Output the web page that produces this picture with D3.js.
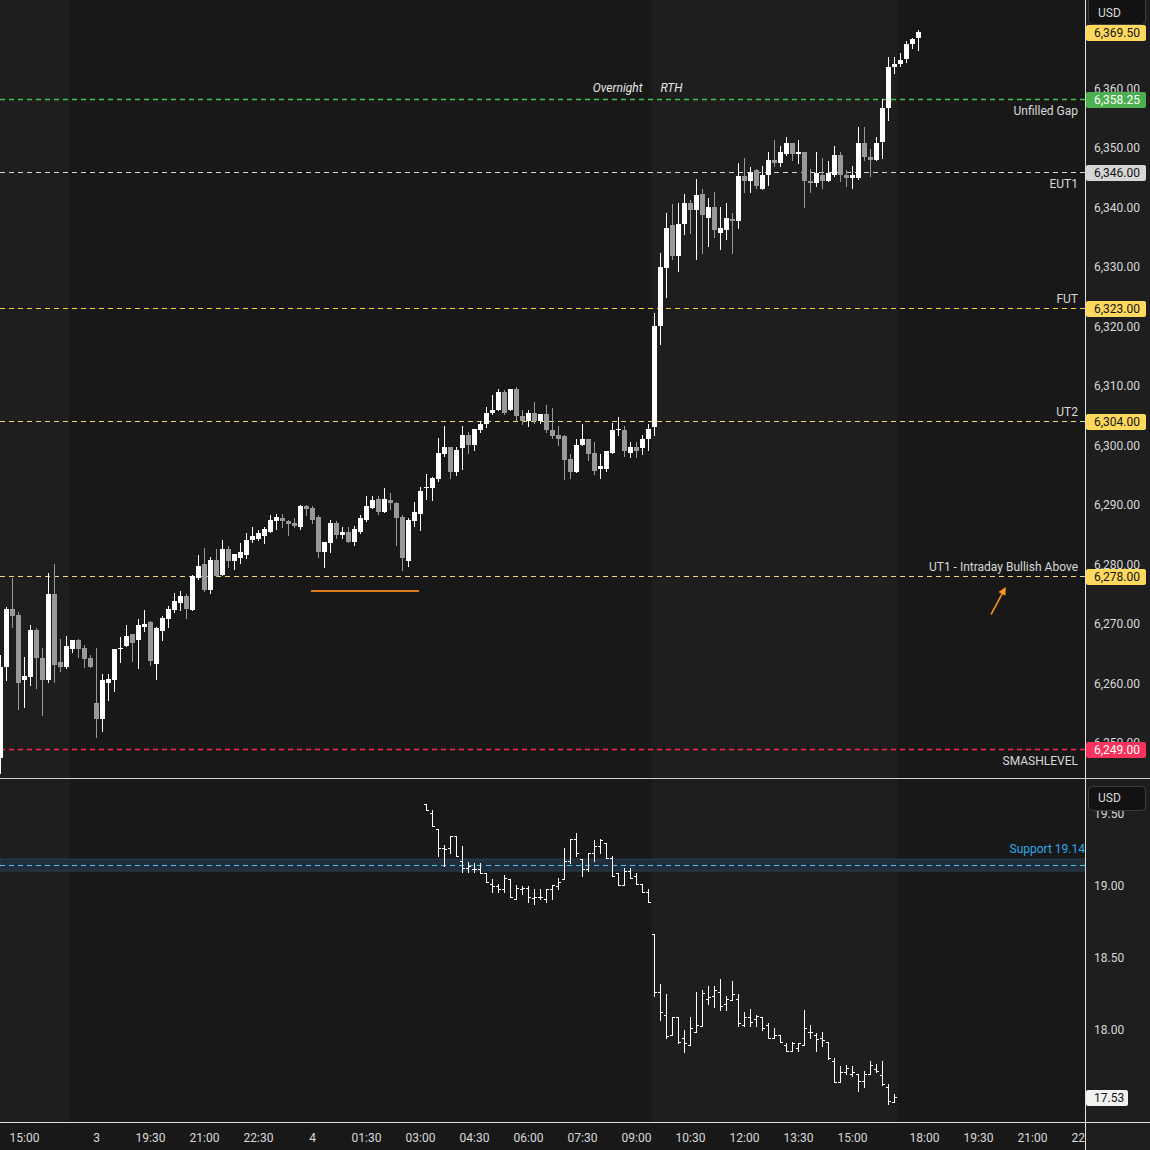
<!DOCTYPE html>
<html lang="en">
<head>
<meta charset="UTF-8">
<title>ES 10m with VIX</title>
<script src="https://d3js.org/d3.v7.min.js"></script>
<style>
  body { margin: 0; background: #181818; }
  text { font-family: Roboto, "DejaVu Sans", sans-serif; }
</style>
</head>
<body>
<script>
// ES 10 minute candles, bar index 0 = 14:20 (day 2), 154 bars
const esOpen = [6247.5,6262.75,6272.5,6271.5,6260.5,6261,6269,6264.25,6260.5,6275,6263.5,6262.75,6265.75,6267.25,6266,6264.25,
  6256.75,6254,6260,6260.5,6265.75,6266.25,6268.25,6267.25,6269.5,6270.25,6263.25,6268.75,6270.75,6272.25,6273.5,6274.75,6272.25,6277.75,6280,6275.75,6280.75,6278.25,6282.5,6280.5,
  6281,6281.5,6284,6284.25,6284.75,6285.5,6287.25,6287.75,6287.25,6287,6286.25,6289.75,6289.5,6288,6282,6283.5,6287,6285,6285.5,6283.75,
  6285.5,6287.5,6289.5,6291,6288.75,6290.75,6290.25,6288,6280.5,6287.25,6288.5,6292.75,6292.75,6294.25,6298.5,6299.75,6295.5,6299.5,6301.75,6300,
  6302.5,6303.5,6305.5,6306,6309,6306,6309.5,6305,6304,6305.5,6304,6305.25,6302.5,6301.75,6301.5,6297.75,6295.5,6300,6301,6298.75,
  6296,6296,6298.75,6302.5,6302.5,6298.75,6299.75,6299.5,6301,6303,6320,6329.75,6337,6331.75,6337.25,6340.75,6339.5,6342.25,6338.25,6340,
  6335.75,6336.25,6338,6337.75,6345.25,6344.5,6346.25,6343,6345.5,6348,6347.5,6349,6350.75,6349,6349.25,6344.5,6344,6345.5,6344.5,6345.5,
  6348.75,6345.5,6345,6345,6350.75,6348.5,6348,6351,6356.75,6363.5,6364,6365,6367.5,6368.5]
const esHigh = [6264.75,6272.75,6277.75,6272,6264.5,6269.75,6269.25,6266,6278.5,6280,6267.5,6268,6267.25,6267.5,6266.5,6264.75,
  6266,6261.5,6261.5,6265.75,6267.75,6269.75,6268.25,6270.75,6272.25,6270.5,6269.5,6271.25,6273,6275.25,6275.5,6275,6278.25,6281.5,6282.75,6281.25,6282.5,6284,6283,6281.75,
  6283.5,6285.25,6286.25,6285.75,6286.25,6288.25,6288.5,6288.5,6287.5,6287.75,6290,6290,6289.75,6288.25,6283.75,6287.5,6287.25,6286.25,6286.25,6286.5,
  6288.25,6291.5,6291.5,6291.5,6292.75,6292,6290.5,6288.25,6287.75,6290.5,6293,6295.25,6294.75,6301.25,6303.25,6299.75,6299.75,6303.25,6302.25,6302.75,
  6304,6306.5,6308.5,6309.5,6309.25,6309.5,6309.75,6306,6306,6307.25,6305.25,6306.75,6306.25,6303.25,6301.75,6298.5,6301,6303.5,6301,6300.5,
  6298.5,6299,6303.75,6304.75,6303.25,6300.5,6300.5,6301.75,6303.5,6322.25,6332.25,6339,6340.5,6340.75,6342.25,6341.25,6344.75,6343,6341.5,6342.5,
  6340,6340.75,6339,6347.5,6348.25,6346.75,6346.5,6347,6349.25,6351.25,6350.25,6351.75,6350.75,6351.25,6349.25,6346.5,6349.25,6348.25,6347.75,6350.25,
  6349.25,6346.25,6347,6353.5,6353.5,6349.75,6351.75,6358.25,6365.25,6365.25,6366,6368,6368.5,6369.75]
const esLow = [6245,6260.5,6269.5,6255.75,6256,6259.75,6259.25,6254.75,6260.25,6260.25,6262,6262.5,6265.25,6264.5,6262.75,6262.75,
  6251,6252,6257.25,6258.75,6263.5,6266.25,6263.75,6262.5,6268.75,6263,6260.75,6267.25,6269.5,6272,6272.25,6271,6272.25,6277.5,6275.5,6275.25,6278,6278.25,6279.5,6279.25,
  6280.25,6281,6283.75,6284,6283.5,6285.5,6286,6286.25,6285,6286.25,6286,6288.25,6287,6281.25,6279.5,6282,6284.5,6284.5,6283.75,6283.25,
  6285.25,6287.25,6289.5,6288.5,6288.75,6289.25,6283.25,6279,6279.75,6286.5,6285.75,6291,6290.75,6294,6298.25,6294.5,6295,6296,6298.75,6299.25,
  6302.25,6303,6305.25,6306,6305.25,6306,6304.25,6303.5,6303.25,6303.75,6303.75,6302.25,6301.25,6300,6294.25,6294.5,6295.5,6300,6297.5,6295.25,
  6294.5,6295.75,6298.75,6301.75,6298.25,6298,6298,6298.5,6299.25,6301.75,6317,6325,6331.25,6329.25,6335.5,6335.75,6331.25,6332.25,6333.5,6335,
  6333,6334.75,6332.25,6336.5,6342.5,6342.5,6343.25,6343,6343.75,6347,6347,6348.75,6348,6347.5,6340,6342.5,6343.5,6343.25,6344.5,6345.25,
  6344.5,6343.5,6343.25,6344.75,6348,6345.25,6348,6348.25,6354.75,6362.5,6363.75,6364.5,6366.75,6366.5]
const esClose = [6262.75,6272.5,6271.25,6260,6261.25,6269,6264.25,6260.5,6275,6263,6262.75,6266.25,6267.25,6265.75,6264,6262.75,
  6254,6260.5,6260.75,6265.75,6266,6268,6266.75,6269.75,6270,6263.75,6269.25,6271,6272.5,6273.75,6274.75,6272.5,6278,6279.75,6275.75,6280.75,6278,6282.5,6280.5,6281.75,
  6282,6284,6284.75,6285.25,6286,6287.5,6288,6287.25,6286.75,6286.5,6289.75,6289.25,6287.5,6282,6283.75,6287,6285,6285.5,6283.75,6286,
  6287.75,6289.75,6290.75,6288.75,6291,6290.25,6287.75,6281,6287.5,6288.75,6292.25,6293,6294.5,6298.75,6299.75,6295.5,6299.25,6301.75,6300,6302.75,
  6303.5,6305.5,6306,6309,6305.5,6309.5,6305,6304,6305.5,6304,6305.25,6302.5,6301.5,6301,6297.5,6295.5,6300,6301,6298.5,6295.75,
  6296.5,6299,6302.5,6302.75,6299,6299.75,6299,6301,6302.75,6320,6330,6336.5,6331.75,6337.25,6340.75,6339.5,6342,6338.75,6340,6336.25,
  6336.5,6338.25,6337.75,6345.25,6344.5,6346,6343.5,6345.5,6348,6347.5,6349.25,6350.75,6349,6349.25,6344.5,6344,6345.75,6344.5,6345.75,6348.75,
  6345.5,6345,6345.5,6350.75,6348.5,6348,6350.75,6356.75,6363.5,6364,6364.75,6367.5,6368.25,6369.5]

// VIX 10 minute bars, first bar at index 71 (03:10)
const vixStart = 71
const vixOpen = [19.56,19.50,19.39,19.26,19.26,19.34,19.17,19.12,19.11,19.11,19.08,19.01,18.99,18.97,19.04,18.90,18.97,18.98,18.91,18.92,
  18.90,18.97,18.99,19.04,19.17,19.32,19.18,19.11,19.22,19.27,19.29,19.19,19.08,19.00,19.10,19.06,19.01,18.95,
  18.66,18.26,18.10,17.96,18.08,17.94,17.89,17.98,18.02,18.21,18.23,18.26,18.17,18.20,18.21,18.03,18.08,18.07,18.08,18.03,
  17.94,17.96,17.89,17.85,17.87,17.89,17.98,17.96,17.94,17.91,17.78,17.63,17.70,17.69,17.69,17.64,17.69,17.72,17.68,17.60,17.49]
const vixHigh = [19.56,19.52,19.39,19.28,19.34,19.34,19.27,19.16,19.15,19.15,19.08,19.04,19.01,19.07,19.04,19.00,18.99,18.99,18.97,18.97,
  18.97,19.00,19.05,19.26,19.32,19.36,19.18,19.22,19.31,19.32,19.29,19.20,19.08,19.12,19.12,19.08,19.01,18.97,
  18.66,18.31,18.24,18.08,18.08,17.99,18.08,18.26,18.27,18.30,18.30,18.35,18.23,18.33,18.24,18.12,18.14,18.10,18.08,18.04,
  18.01,17.96,17.90,17.91,17.90,18.13,18.03,17.97,17.98,17.91,17.80,17.74,17.75,17.74,17.69,17.71,17.78,17.76,17.78,17.62,17.55]
const vixLow = [19.52,19.41,19.20,19.13,19.22,19.20,19.09,19.09,19.09,19.08,19.02,18.95,18.95,18.95,18.92,18.90,18.94,18.88,18.87,18.90,
  18.88,18.90,18.97,19.04,19.15,19.20,19.06,19.10,19.17,19.22,19.19,19.06,19.00,19.00,19.05,19.01,18.95,18.88,
  18.23,18.06,17.94,17.96,17.90,17.84,17.89,17.98,18.02,18.17,18.15,18.13,18.13,18.20,18.02,18.02,18.02,18.02,17.99,17.94,
  17.94,17.91,17.85,17.85,17.85,17.89,17.94,17.85,17.88,17.79,17.63,17.63,17.69,17.67,17.57,17.60,17.69,17.70,17.61,17.48,17.49]
const vixClose = [19.52,19.41,19.26,19.25,19.34,19.20,19.12,19.13,19.11,19.08,19.02,18.99,18.97,19.05,18.92,18.98,18.98,18.92,18.92,18.92,
  18.97,19.00,19.02,19.17,19.32,19.22,19.11,19.22,19.27,19.31,19.19,19.06,19.00,19.10,19.05,19.01,18.95,18.88,
  18.26,18.12,17.95,18.08,17.91,17.90,18.01,18.03,18.25,18.22,18.27,18.16,18.21,18.24,18.04,18.08,18.05,18.09,18.01,17.94,
  17.96,17.91,17.85,17.90,17.90,18.01,17.98,17.93,17.92,17.80,17.63,17.70,17.73,17.70,17.64,17.69,17.75,17.71,17.62,17.50,17.53]

// horizontal levels
const levelPrices = [6358.25, 6346, 6323, 6304, 6278, 6249]
const levelNames = ["Unfilled Gap", "EUT1", "FUT", "UT2", "UT1 - Intraday Bullish Above", "SMASHLEVEL"]
const supportLevel = 19.14
const supportBand = [19.097, 19.18]

// axes
const priceTicks = [6250, 6260, 6270, 6280, 6290, 6300, 6310, 6320, 6330, 6340, 6350, 6360, 6370]
const vixTicks = [18.0, 18.5, 19.0, 19.5]
const timeTickIdx = [4, 16, 25, 34, 43, 52, 61, 70, 79, 88, 97, 106, 115, 124, 133, 142, 154, 163, 172, 181]
const timeTickLabels = ["15:00", "3", "19:30", "21:00", "22:30", "4", "01:30", "03:00", "04:30", "06:00", "07:30", "09:00",
  "10:30", "12:00", "13:30", "15:00", "18:00", "19:30", "21:00", "22:30"]

// RTH sessions (bar index ranges) and drawings
const rthSessions = [[-2, 11], [109, 149]]
const rthStart = 109
const orangeSeg = [51.75, 69.75, 6275.5]
const arrowFrom = [165.1, 6271.6]
const arrowTo = [167.55, 6276.2]

// ---- styles
const levelStyle = {
  "Unfilled Gap": { line: "#3fc44a", box: "#4caf50", text: "#ffffff", below: true, w: 1.6 },
  "EUT1": { line: "#d8d8d8", box: "#d6d6d6", text: "#131313", below: true, w: 1 },
  "FUT": { line: "#ffcc33", box: "#ffd95e", text: "#131313", below: false, w: 1 },
  "UT2": { line: "#f0d77e", box: "#ffd95e", text: "#131313", below: false, w: 1 },
  "UT1 - Intraday Bullish Above": { line: "#f0d77e", box: "#ffd95e", text: "#131313", below: false, w: 1 },
  "SMASHLEVEL": { line: "#ff2450", box: "#f7325d", text: "#ffffff", below: true, w: 1.6 }
}
const upColor = "#ffffff", downColor = "#999999"
const bgDark = "#181818", bgLight = "#1e1e1e"
const axisText = "#d8d8d8"
const dyText = 1.5

const W = 1150, H = 1150, plotR = 1085
const mainBot = 778, subTop = 779, subBot = 1122

const svg = d3.select("body").append("svg")
  .attr("width", W).attr("height", H)

const x = d3.scaleLinear().domain([-1 / 12, 180.75]).range([0, plotR])
const y = d3.scaleLinear().domain([6244.08, 6374.84]).range([mainBot, 0])
const yv = d3.scaleLinear().domain([17.354, 19.736]).range([subBot, subTop])
const fmtP = d3.format(",.2f")
const r = v => Math.round(v)

// backgrounds
svg.append("rect").attr("width", W).attr("height", H).attr("fill", bgDark)
svg.append("rect").attr("x", plotR).attr("width", W - plotR).attr("height", H).attr("fill", "#1e1e1e")
rthSessions.forEach(s => {
  const x0 = Math.max(0, x(s[0]) - 3), x1 = x(s[1]) + 3
  svg.append("rect").attr("x", x0).attr("y", 0).attr("width", x1 - x0).attr("height", subBot)
    .attr("fill", bgLight)
})

svg.append("clipPath").attr("id", "clipMain").append("rect")
  .attr("width", plotR).attr("height", mainBot)
svg.append("clipPath").attr("id", "clipSub").append("rect")
  .attr("y", subTop).attr("width", plotR).attr("height", subBot - subTop)

const gMain = svg.append("g").attr("clip-path", "url(#clipMain)")
const gSub = svg.append("g").attr("clip-path", "url(#clipSub)")

// level lines
levelPrices.forEach((p, i) => {
  const st = levelStyle[levelNames[i]]
  const yy = r(y(p)) + 0.5
  gMain.append("line").attr("x1", 0).attr("x2", plotR).attr("y1", yy).attr("y2", yy)
    .attr("stroke", st.line).attr("stroke-width", st.w).attr("stroke-dasharray", "5,4")
  gMain.append("text").attr("x", 1078).attr("y", (st.below ? yy + 11 : yy - 10) + dyText)
    .attr("text-anchor", "end").attr("dominant-baseline", "middle")
    .attr("font-size", 12).attr("fill", axisText).text(levelNames[i])
})

// session labels
gMain.append("text").attr("x", x(rthStart) - 12).attr("y", 87 + dyText).attr("text-anchor", "end")
  .attr("dominant-baseline", "middle").attr("font-size", 12).attr("font-style", "italic")
  .attr("fill", "#e6e6e6").text("Overnight")
gMain.append("text").attr("x", x(rthStart) + 6).attr("y", 87 + dyText)
  .attr("dominant-baseline", "middle").attr("font-size", 12).attr("font-style", "italic")
  .attr("fill", "#e6e6e6").text("RTH")

// candles
const idx = d3.range(esOpen.length)
const cg = gMain.append("g")
cg.selectAll("line.wick").data(idx).join("line").attr("class", "wick")
  .attr("x1", d => x(d)).attr("x2", d => x(d))
  .attr("y1", d => r(y(esHigh[d]))).attr("y2", d => r(y(esLow[d])) + 1)
  .attr("stroke", d => esClose[d] >= esOpen[d] ? upColor : downColor).attr("stroke-width", 1)
cg.selectAll("rect.body").data(idx).join("rect").attr("class", "body")
  .attr("x", d => x(d) - 2.5).attr("width", 5)
  .attr("y", d => r(y(Math.max(esOpen[d], esClose[d]))))
  .attr("height", d => Math.max(1, r(y(Math.min(esOpen[d], esClose[d]))) - r(y(Math.max(esOpen[d], esClose[d])))))
  .attr("fill", d => esClose[d] >= esOpen[d] ? upColor : downColor)

// orange drawing + arrow
gMain.append("line").attr("x1", x(orangeSeg[0])).attr("x2", x(orangeSeg[1]))
  .attr("y1", y(orangeSeg[2])).attr("y2", y(orangeSeg[2]))
  .attr("stroke", "#e07a1f").attr("stroke-width", 2)
const ax0 = x(arrowFrom[0]), ay0 = y(arrowFrom[1]), ax1 = x(arrowTo[0]), ay1 = y(arrowTo[1])
const ang = Math.atan2(ay1 - ay0, ax1 - ax0)
gMain.append("line").attr("x1", ax0).attr("y1", ay0)
  .attr("x2", ax1 - 5 * Math.cos(ang)).attr("y2", ay1 - 5 * Math.sin(ang))
  .attr("stroke", "#f7931e").attr("stroke-width", 1.6)
const hl = 8, hw = 4
gMain.append("path").attr("fill", "#f7931e").attr("d", d3.line()([
  [ax1, ay1],
  [ax1 - hl * Math.cos(ang) + hw * Math.sin(ang), ay1 - hl * Math.sin(ang) - hw * Math.cos(ang)],
  [ax1 - hl * Math.cos(ang) - hw * Math.sin(ang), ay1 - hl * Math.sin(ang) + hw * Math.cos(ang)]
]) + "Z")

// support band (lower pane)
gSub.append("rect").attr("x", 0).attr("width", plotR)
  .attr("y", yv(supportBand[1])).attr("height", yv(supportBand[0]) - yv(supportBand[1]))
  .attr("fill", "#1f2e3a").attr("stroke", "#2c4150").attr("stroke-width", 1)
gSub.append("line").attr("x1", 0).attr("x2", plotR)
  .attr("y1", r(yv(supportLevel)) + 0.5).attr("y2", r(yv(supportLevel)) + 0.5)
  .attr("stroke", "#4fc3f7").attr("stroke-dasharray", "5,4")
gSub.append("text").attr("x", plotR).attr("y", yv(supportLevel) - 16 + dyText)
  .attr("text-anchor", "end").attr("dominant-baseline", "middle")
  .attr("font-size", 12).attr("fill", "#2ea8e8").text("Support " + supportLevel)

// VIX OHLC bars
const vidx = d3.range(vixOpen.length)
const vg = gSub.append("g").attr("stroke", "#ffffff").attr("stroke-width", 1)
vg.selectAll("line.v").data(vidx).join("line")
  .attr("x1", d => x(d + vixStart)).attr("x2", d => x(d + vixStart))
  .attr("y1", d => r(yv(vixHigh[d]))).attr("y2", d => r(yv(vixLow[d])) + 1)
vg.selectAll("line.o").data(vidx).join("line")
  .attr("x1", d => x(d + vixStart) - 2.5).attr("x2", d => x(d + vixStart) - 0.5)
  .attr("y1", d => r(yv(vixOpen[d])) + 0.5).attr("y2", d => r(yv(vixOpen[d])) + 0.5)
vg.selectAll("line.c").data(vidx).join("line")
  .attr("x1", d => x(d + vixStart) + 0.5).attr("x2", d => x(d + vixStart) + 2.5)
  .attr("y1", d => r(yv(vixClose[d])) + 0.5).attr("y2", d => r(yv(vixClose[d])) + 0.5)

// frame lines
svg.append("line").attr("x1", plotR + 0.5).attr("x2", plotR + 0.5).attr("y1", 0).attr("y2", H)
  .attr("stroke", "#e0e0e0")
svg.append("line").attr("x1", 0).attr("x2", W).attr("y1", mainBot + 0.5).attr("y2", mainBot + 0.5)
  .attr("stroke", "#cfcfcf")
svg.append("line").attr("x1", 0).attr("x2", W).attr("y1", subBot + 0.5).attr("y2", subBot + 0.5)
  .attr("stroke", "#e0e0e0")

// price axis
const axG = svg.append("g")
axG.selectAll("text.pt").data(priceTicks).join("text")
  .attr("x", 1094).attr("y", d => y(d) + dyText).attr("dominant-baseline", "middle")
  .attr("font-size", 12).attr("fill", axisText).text(d => fmtP(d))

function priceBox(yy, label, fill, color) {
  const c = r(yy) + 1
  axG.append("rect").attr("x", 1086).attr("y", c - 8).attr("width", 60).attr("height", 16)
    .attr("rx", 2).attr("fill", fill)
  axG.append("text").attr("x", 1094).attr("y", c + 0.5).attr("dominant-baseline", "middle")
    .attr("font-size", 12).attr("fill", color).text(label)
}
levelPrices.forEach((p, i) => {
  const st = levelStyle[levelNames[i]]
  priceBox(y(p), fmtP(p), st.box, st.text)
})
priceBox(y(esClose[esClose.length - 1]), fmtP(esClose[esClose.length - 1]), "#ffd95e", "#131313")

// vix axis
axG.selectAll("text.vt").data(vixTicks).join("text")
  .attr("x", 1094).attr("y", d => yv(d) + dyText).attr("dominant-baseline", "middle")
  .attr("font-size", 12).attr("fill", axisText).text(d => d.toFixed(2))
const lastV = vixClose[vixClose.length - 1]
const lc = r(yv(lastV)) + 1
axG.append("rect").attr("x", 1086).attr("y", lc - 8).attr("width", 42).attr("height", 16)
  .attr("rx", 2).attr("fill", "#f2f2f2")
axG.append("text").attr("x", 1094).attr("y", lc + 0.5).attr("dominant-baseline", "middle")
  .attr("font-size", 12).attr("fill", "#131313").text(lastV.toFixed(2))

// USD boxes
;[[-6, 30], [786, 24]].forEach(b => {
  axG.append("rect").attr("x", 1088.5).attr("y", b[0] + 0.5).attr("width", 57).attr("height", b[1])
    .attr("rx", 4).attr("fill", "#121212").attr("stroke", "#3c3c3c")
  axG.append("text").attr("x", 1098).attr("y", (b[0] < 0 ? 12 : 797) + dyText).attr("dominant-baseline", "middle")
    .attr("font-size", 12).attr("fill", axisText).text("USD")
})

// time axis
const tg = svg.append("g")
svg.append("clipPath").attr("id", "clipTime").append("rect")
  .attr("y", subBot).attr("width", plotR).attr("height", H - subBot)
tg.attr("clip-path", "url(#clipTime)")
tg.selectAll("text").data(timeTickIdx).join("text")
  .attr("x", d => x(d)).attr("y", 1137 + dyText).attr("text-anchor", "middle")
  .attr("dominant-baseline", "middle").attr("font-size", 12).attr("fill", axisText)
  .text((d, i) => timeTickLabels[i])
</script>
</body>
</html>
